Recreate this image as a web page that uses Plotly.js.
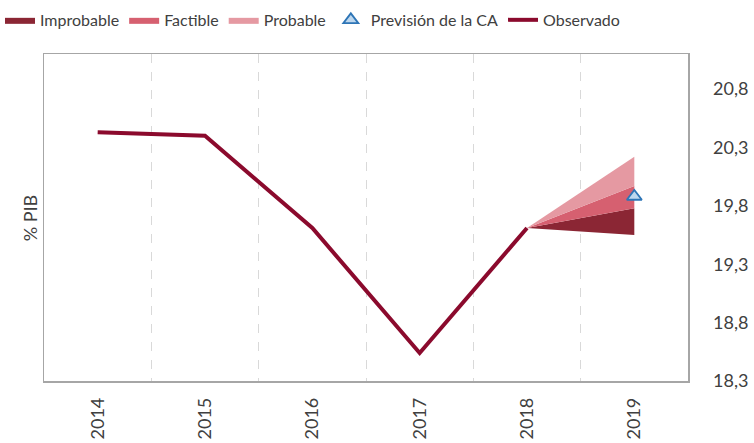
<!DOCTYPE html>
<html>
<head>
<meta charset="utf-8">
<script src="https://cdn.plot.ly/plotly-3.0.1.min.js"></script>
<style>html,body{margin:0;padding:0;background:#fff}#chart{width:754px;height:443px}</style>
</head>
<body>
<div id="chart"></div>
<script>
var years = ['2014', '2015', '2016', '2017', '2018', '2019'];
var observado = [20.43, 20.40, 19.61, 18.54, 19.61];
var fanYears = ['2018', '2019'];
var fanBase = [19.61, 19.55];
var improbable = [19.61, 19.78];
var factible = [19.61, 19.97];
var probable = [19.61, 20.22];
var prevYear = ['2019'];
var prevision = [19.88];
var yTicks = [18.3, 18.8, 19.3, 19.8, 20.3, 20.8];

var textColor = '#404040';
var font = {family: 'Lato, "Open Sans", sans-serif', size: 17, color: textColor};

var traces = [
  {x: fanYears, y: fanBase, type: 'scatter', mode: 'lines', line: {width: 0, color: 'rgba(0,0,0,0)'},
   showlegend: false, hoverinfo: 'skip'},
  {x: fanYears, y: improbable, type: 'scatter', mode: 'lines', name: 'Improbable', fill: 'tonexty',
   fillcolor: '#8B2634', line: {width: 0, color: '#8B2634'}, legendrank: 1},
  {x: fanYears, y: factible, type: 'scatter', mode: 'lines', name: 'Factible', fill: 'tonexty',
   fillcolor: '#D66070', line: {width: 0, color: '#D66070'}, legendrank: 2},
  {x: fanYears, y: probable, type: 'scatter', mode: 'lines', name: 'Probable', fill: 'tonexty',
   fillcolor: '#E599A2', line: {width: 0, color: '#E599A2'}, legendrank: 3},
  {x: years.slice(0, 5), y: observado, type: 'scatter', mode: 'lines', name: 'Observado',
   line: {color: '#8B0A2D', width: 4}, legendrank: 5},
  {x: prevYear, y: prevision, type: 'scatter', mode: 'markers', name: 'Previsión de la CA',
   marker: {symbol: 'triangle-up', size: 13, color: '#BDD7EE', line: {color: '#2E75B6', width: 1.8}},
   legendrank: 4}
];

var layout = {
  width: 754, height: 443,
  margin: {l: 44, r: 66, t: 54, b: 62, autoexpand: false},
  paper_bgcolor: '#fff', plot_bgcolor: '#fff',
  font: font,
  showlegend: true,
  legend: {orientation: 'h', xref: 'container', yref: 'container', x: 0.0, xanchor: 'left',
           y: 0.955, yanchor: 'middle',
           font: {family: font.family, size: 16, color: textColor}, itemwidth: 30,
           traceorder: 'normal', tracegroupgap: 0, bgcolor: 'rgba(0,0,0,0)'},
  xaxis: {type: 'category', categoryorder: 'array', categoryarray: years, range: [-0.5, 5.5],
          tickson: 'boundaries', ticks: '', showgrid: true, gridcolor: '#d9d9d9', griddash: 'dash',
          gridwidth: 1, showline: true, mirror: true, linecolor: '#a6a6a6', linewidth: 1.5,
          tickangle: -90, ticklabelstandoff: 8,
          tickfont: {family: font.family, size: 18, color: textColor}, zeroline: false},
  yaxis: {side: 'right', range: [18.3, 21.1], tickvals: yTicks, tickformat: '.1f',
          showgrid: false, zeroline: false, showline: true, mirror: true, linecolor: '#a6a6a6',
          linewidth: 1.5, ticks: '', ticklabelstandoff: 20,
          tickfont: {family: font.family, size: 18, color: textColor}},
  separators: ',.',
  annotations: [
    {text: '% PIB', xref: 'paper', yref: 'paper', x: -0.022, y: 0.5, xanchor: 'center', yanchor: 'middle',
     textangle: -90, showarrow: false, font: {family: font.family, size: 18, color: textColor}}
  ]
};

Plotly.newPlot('chart', traces, layout, {displayModeBar: false, staticPlot: true});
</script>
</body>
</html>
